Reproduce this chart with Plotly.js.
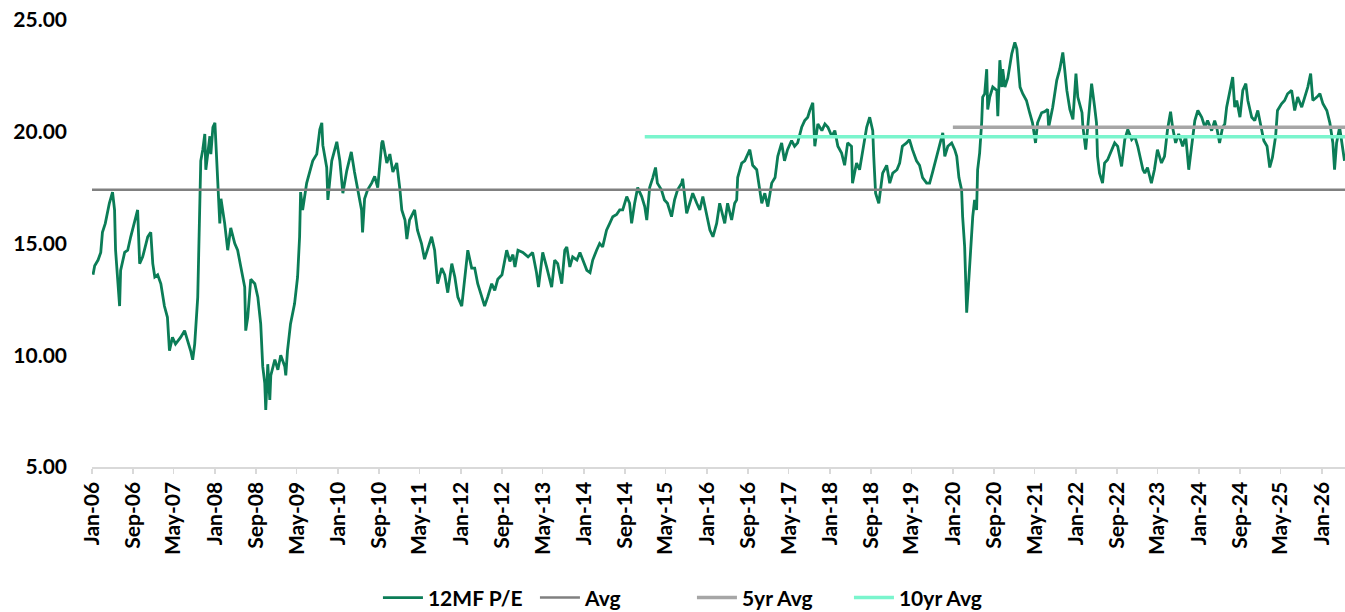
<!DOCTYPE html>
<html>
<head>
<meta charset="utf-8">
<script src="https://cdn.plot.ly/plotly-3.0.1.min.js"></script>
<style>html,body{margin:0;padding:0;background:#fff;}#chart{width:1345px;height:612px;}</style>
</head>
<body>
<div id="chart"></div>
<script>
var peDates = [
'2006-01-07','2006-01-17','2006-02-06','2006-02-22','2006-03-04','2006-03-21','2006-04-14','2006-05-03','2006-05-15','2006-05-21','2006-06-14','2006-06-20','2006-07-14','2006-08-01','2006-08-19','2006-09-12','2006-09-29','2006-10-11','2006-10-29','2006-11-28','2006-12-16','2006-12-28',
'2007-01-09','2007-01-26','2007-02-14','2007-03-07','2007-03-25','2007-04-06','2007-04-24','2007-05-12','2007-06-11','2007-07-05','2007-07-23','2007-08-10','2007-08-22','2007-09-03','2007-09-21','2007-10-03','2007-10-09','2007-10-21','2007-11-02','2007-11-08','2007-11-20','2007-12-02','2007-12-08','2007-12-20',
'2008-01-01','2008-01-07','2008-01-19','2008-01-30','2008-02-06','2008-02-28','2008-03-17','2008-04-04','2008-04-28','2008-05-15','2008-06-03','2008-06-26','2008-07-02','2008-07-14','2008-08-01','2008-08-25','2008-09-12','2008-09-29','2008-10-11','2008-10-23','2008-10-29','2008-11-10','2008-11-22','2008-11-28','2008-12-22',
'2009-01-09','2009-01-26','2009-02-19','2009-02-25','2009-03-07','2009-03-25','2009-04-18','2009-05-06','2009-05-18','2009-05-24','2009-06-05','2009-06-29','2009-07-17','2009-08-04','2009-08-28','2009-09-15','2009-09-27','2009-10-03','2009-10-26','2009-11-02','2009-11-25','2009-12-25',
'2010-01-12','2010-01-30','2010-02-22','2010-03-21','2010-04-09','2010-04-27','2010-05-21','2010-05-27','2010-06-08','2010-06-26','2010-07-20','2010-08-07','2010-08-25','2010-09-18','2010-09-24','2010-10-18','2010-11-05','2010-11-23','2010-12-16',
'2011-01-04','2011-01-15','2011-02-03','2011-02-14','2011-03-02','2011-04-01','2011-04-18','2011-05-12','2011-05-30','2011-06-17','2011-07-11','2011-07-29','2011-08-16','2011-09-09','2011-09-27','2011-10-15','2011-11-08','2011-11-26','2011-12-14',
'2012-01-06','2012-01-24','2012-02-11','2012-03-05','2012-03-23','2012-04-10','2012-05-03','2012-05-21','2012-06-08','2012-07-02','2012-07-20','2012-08-07','2012-09-01','2012-09-18','2012-09-29','2012-10-18','2012-11-05','2012-11-17','2012-12-05',
'2013-01-03','2013-02-03','2013-03-02','2013-03-25','2013-04-06','2013-05-01','2013-05-24','2013-06-23','2013-07-11','2013-07-29','2013-08-22','2013-09-09','2013-09-21','2013-10-09','2013-10-26','2013-11-20','2013-12-08','2013-12-25',
'2014-01-18','2014-02-06','2014-02-22','2014-03-17','2014-04-04','2014-04-22','2014-05-15','2014-06-03','2014-06-21','2014-07-14','2014-08-01','2014-08-19','2014-09-12','2014-09-29','2014-10-11','2014-10-29','2014-11-16','2014-12-10','2014-12-28',
'2015-01-09','2015-01-26','2015-02-14','2015-03-02','2015-03-13','2015-04-06','2015-04-24','2015-05-12','2015-06-05','2015-06-23','2015-07-11','2015-08-04','2015-08-10','2015-09-03','2015-09-21','2015-10-09','2015-11-02','2015-11-20','2015-12-08',
'2016-01-01','2016-01-19','2016-02-06','2016-02-28','2016-03-17','2016-04-04','2016-04-16','2016-05-03','2016-05-27','2016-06-14','2016-06-26','2016-07-02','2016-07-26','2016-08-13','2016-09-01','2016-09-12','2016-09-29','2016-10-23','2016-11-10','2016-11-22','2016-12-10','2016-12-28',
'2017-01-20','2017-02-09','2017-02-25','2017-03-20','2017-04-06','2017-04-24','2017-05-18','2017-06-05','2017-06-23','2017-07-17','2017-08-04','2017-08-22','2017-09-03','2017-09-21','2017-10-03','2017-10-21','2017-11-14','2017-12-02','2017-12-20',
'2018-01-12','2018-01-30','2018-02-17','2018-03-11','2018-03-29','2018-04-16','2018-05-09','2018-05-15','2018-06-08','2018-06-26','2018-07-14','2018-08-07','2018-08-25','2018-09-12','2018-09-18','2018-09-29','2018-10-18','2018-11-10','2018-12-04','2018-12-22',
'2019-01-09','2019-02-03','2019-02-19','2019-03-07','2019-04-01','2019-04-18','2019-05-06','2019-05-30','2019-06-17','2019-07-05','2019-07-29','2019-08-16','2019-09-03','2019-09-27','2019-10-15','2019-11-02','2019-11-14','2019-12-02','2019-12-25',
'2020-01-12','2020-01-24','2020-02-06','2020-02-22','2020-02-28','2020-03-11','2020-03-17','2020-03-23','2020-04-04','2020-04-16','2020-04-28','2020-05-09','2020-05-21','2020-05-27','2020-06-08','2020-06-20','2020-06-26','2020-07-08','2020-07-20','2020-07-26','2020-08-07','2020-08-25','2020-09-18','2020-09-24','2020-10-06','2020-10-18','2020-10-23','2020-11-05','2020-11-22','2020-12-16',
'2021-01-03','2021-01-15','2021-02-03','2021-02-19','2021-03-13','2021-04-01','2021-04-18','2021-05-06','2021-05-18','2021-06-11','2021-06-29','2021-07-17','2021-07-23','2021-08-16','2021-09-09','2021-09-27','2021-10-15','2021-10-26','2021-11-08','2021-11-26','2021-12-14',
'2022-01-01','2022-01-12','2022-02-06','2022-02-11','2022-02-28','2022-03-11','2022-04-04','2022-04-22','2022-05-03','2022-05-09','2022-05-21','2022-06-08','2022-06-20','2022-07-08','2022-08-01','2022-08-19','2022-09-06','2022-09-29','2022-10-18','2022-11-05','2022-11-28','2022-12-16',
'2023-01-03','2023-01-15','2023-02-03','2023-02-14','2023-03-02','2023-03-25','2023-04-12','2023-04-30','2023-05-24','2023-06-11','2023-06-29','2023-07-17','2023-07-29','2023-08-16','2023-09-03','2023-09-27','2023-10-15','2023-11-02','2023-11-20','2023-12-08','2023-12-26',
'2024-01-18','2024-02-06','2024-02-22','2024-03-17','2024-04-04','2024-04-16','2024-05-03','2024-05-21','2024-06-03','2024-06-14','2024-07-02','2024-07-20','2024-08-01','2024-08-13','2024-09-01','2024-09-18','2024-10-06','2024-10-18','2024-11-10','2024-11-28','2024-12-16',
'2025-01-03','2025-01-21','2025-02-09','2025-02-25','2025-03-13','2025-04-01','2025-04-12','2025-05-06','2025-05-24','2025-06-11','2025-07-05','2025-07-23','2025-08-10','2025-09-03','2025-09-21','2025-10-09','2025-10-26','2025-11-08','2025-12-02','2025-12-20',
'2026-01-07','2026-01-30','2026-02-17','2026-03-07','2026-03-17','2026-03-29','2026-04-16','2026-05-03','2026-05-15'
];
var peValues = [
13.6,14.0,14.26,14.6,15.5,15.9,16.8,17.3,16.5,14.7,12.2,13.8,14.6,14.7,15.3,16.05,16.5,14.1,14.4,15.3,15.5,14.1,
13.5,13.6,13.2,12.2,11.7,10.2,10.8,10.5,10.8,11.1,10.7,10.2,9.8,10.5,12.6,17.3,18.7,19.2,19.9,18.3,19.2,19.8,19.0,20.2,
20.4,19.4,18.0,15.9,17.0,15.9,14.7,15.7,15.0,14.7,13.95,13.05,11.1,11.7,13.4,13.2,12.6,11.4,9.5,8.75,7.55,9.6,8.0,9.1,9.8,
9.35,10.0,9.5,9.1,10.2,11.4,12.3,13.5,15.3,17.3,16.5,17.7,18.2,18.7,19.0,20.1,20.4,19.4,18.4,16.95,18.7,19.55,
18.7,17.25,18.25,19.1,18.2,17.5,16.5,15.5,17.0,17.4,17.7,18.0,17.5,19.5,19.6,18.6,19.0,18.2,18.6,
17.4,16.5,16.05,15.2,16.05,16.5,15.6,15.0,14.3,14.7,15.3,14.7,13.2,13.9,13.6,12.8,14.1,13.5,12.6,
12.2,13.4,14.7,13.9,13.9,13.2,12.6,12.2,12.6,13.2,12.9,13.4,13.6,14.3,14.7,14.2,14.5,13.95,14.7,
14.6,14.4,14.6,13.7,13.05,14.6,13.95,13.05,14.26,14.1,13.2,14.7,14.85,13.95,14.4,14.26,14.6,14.26,
13.8,13.7,14.26,14.7,15.0,14.85,15.6,15.9,16.2,16.3,16.5,16.5,17.1,16.8,15.9,16.8,17.5,17.1,16.65,
16.05,17.5,17.95,18.4,17.7,17.4,16.95,16.8,16.2,16.95,17.4,17.7,17.9,16.35,16.8,17.25,16.8,16.5,17.1,
16.2,15.6,15.3,15.9,16.8,16.2,15.9,16.8,16.05,16.8,16.95,17.95,18.6,18.7,19.05,19.2,18.5,18.3,17.4,16.8,17.25,16.65,
17.7,17.95,18.9,19.5,18.7,19.2,19.6,19.35,19.5,20.2,20.5,20.65,20.95,21.3,19.35,20.35,20.05,20.35,20.2,
19.8,20.05,19.35,19.05,18.5,19.5,19.35,17.7,18.6,18.3,19.2,20.2,20.65,20.05,18.9,17.25,16.8,18.15,18.5,17.7,
18.15,18.3,18.6,19.35,19.5,19.65,19.2,18.7,18.5,17.95,17.7,17.7,18.2,18.9,19.35,19.95,18.9,19.35,19.5,
19.2,18.9,17.95,17.4,16.2,14.85,13.4,11.9,13.3,14.85,16.2,16.95,16.5,18.3,19.05,20.4,21.55,21.7,22.8,21.0,21.55,22.0,21.85,20.7,23.2,22.0,22.8,22.0,22.4,23.5,
24.0,23.7,22.0,21.7,21.4,20.85,20.4,19.5,20.4,20.85,20.9,21.0,20.2,21.1,22.3,22.8,23.55,22.8,21.85,21.0,20.55,
22.6,21.55,20.85,20.25,19.2,20.1,22.15,21.1,20.4,18.9,18.15,17.7,18.6,18.75,19.2,19.5,19.35,18.45,19.65,20.1,19.65,19.8,
19.35,18.9,18.3,18.15,18.4,17.7,18.3,19.2,18.6,18.9,20.1,20.9,20.2,19.5,19.9,19.35,19.8,18.3,19.5,20.5,20.95,
20.65,20.2,20.5,20.05,20.5,20.2,19.5,20.2,20.35,21.1,21.85,22.45,21.1,21.4,20.65,21.85,22.15,21.4,20.65,20.5,20.95,
20.2,19.6,19.35,18.4,18.85,19.8,20.95,21.25,21.4,21.7,21.85,20.95,21.55,21.1,21.55,22.0,22.6,21.4,21.55,21.7,
21.25,20.95,20.4,19.5,18.3,19.5,20.2,19.2,18.7
];

var avgValue = 17.4;
var avgStart = '2006-01-01', avgEnd = '2026-05-18';
var fiveYrValue = 20.2;
var fiveYrStart = '2020-01-01', fiveYrEnd = '2026-05-18';
var tenYrValue = 19.78;
var tenYrStart = '2014-12-28', tenYrEnd = '2026-05-18';

var seriesNames = ['12MF P/E', 'Avg', '5yr Avg', '10yr Avg'];

var fontFam = 'Lato, "Open Sans", sans-serif';

var traces = [
  {x: peDates, y: peValues, name: seriesNames[0], type: 'scatter', mode: 'lines',
   line: {color: '#0b7d57', width: 2.8}},
  {x: [avgStart, avgEnd], y: [avgValue, avgValue], name: seriesNames[1], type: 'scatter', mode: 'lines',
   line: {color: '#808080', width: 2.5}},
  {x: [fiveYrStart, fiveYrEnd], y: [fiveYrValue, fiveYrValue], name: seriesNames[2], type: 'scatter', mode: 'lines',
   line: {color: '#a6a6a6', width: 3.5}},
  {x: [tenYrStart, tenYrEnd], y: [tenYrValue, tenYrValue], name: seriesNames[3], type: 'scatter', mode: 'lines',
   line: {color: '#7af5cd', width: 3.5}}
];

var layout = {
  width: 1345, height: 612,
  margin: {l: 92, r: 0, t: 20, b: 145, autoexpand: false},
  paper_bgcolor: '#ffffff', plot_bgcolor: '#ffffff',
  font: {family: fontFam, color: '#000000'},
  showlegend: true,
  legend: {orientation: 'h', xref: 'container', yref: 'container',
           x: 0.281, xanchor: 'left', y: 0.023, yanchor: 'middle',
           itemwidth: 40, entrywidth: 102, entrywidthmode: 'pixels',
           font: {family: fontFam, size: 21, weight: 'bold', color: '#000'}},
  xaxis: {
    type: 'date', range: ['2006-01-01', '2026-05-18'],
    tick0: '2006-01-01', dtick: 'M8', tickformat: '%b-%y', tickangle: -90,
    ticks: 'outside', ticklen: 5, tickwidth: 1.5, tickcolor: '#d9d9d9',
    showline: true, linecolor: '#d9d9d9', linewidth: 1.5,
    showgrid: false, zeroline: false, automargin: false,
    tickfont: {family: fontFam, size: 21, weight: 'bold', color: '#000'}
  },
  yaxis: {
    range: [5, 25], dtick: 5, tick0: 5, tickformat: '.2f',
    showgrid: false, zeroline: false, showline: false, ticks: '', automargin: false,
    ticklabelstandoff: 24,
    tickfont: {family: fontFam, size: 21, weight: 'bold', color: '#000'}
  }
};

Plotly.newPlot('chart', traces, layout, {displayModeBar: false, staticPlot: true});
</script>
</body>
</html>
